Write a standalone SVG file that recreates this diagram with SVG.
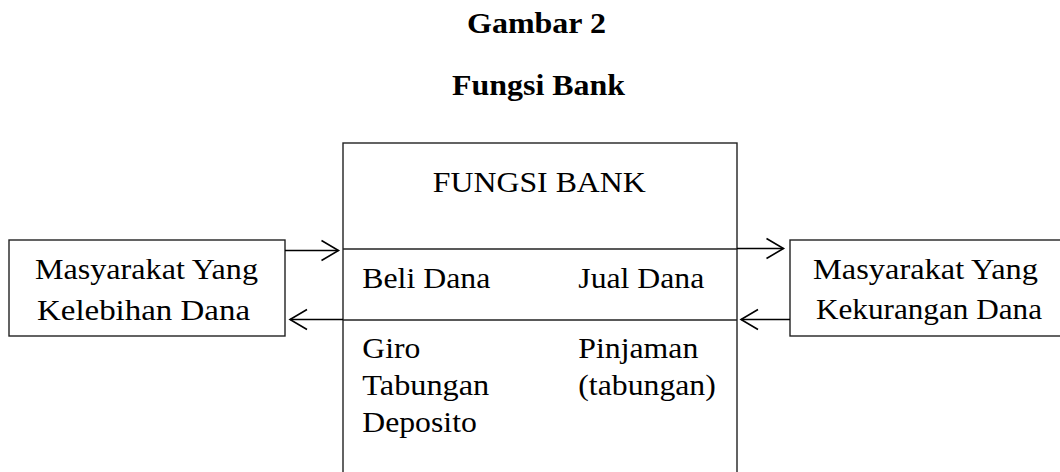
<svg xmlns="http://www.w3.org/2000/svg" width="1060" height="472" viewBox="0 0 1060 472">
<defs>
<style>
text{font-family:"Liberation Serif","Times New Roman",serif;font-size:30px;fill:#000}
.t{font-weight:bold;text-anchor:middle}
.c{text-anchor:middle}
.box{fill:none;stroke:#222;stroke-width:1.4}
.div{stroke:#222;stroke-width:1.4;fill:none}
.arr{stroke:#000;stroke-width:1.6;fill:none;marker-end:url(#open)}
</style>
<marker id="open" markerUnits="userSpaceOnUse" markerWidth="24" markerHeight="24" viewBox="-20 -12 24 24" refX="0" refY="0" orient="auto">
<path d="M-17,-10 L0,0 L-17,10" fill="none" stroke="#000" stroke-width="1.6"/>
</marker>
</defs>
<rect width="1060" height="472" fill="#fff"/>
<g id="title">
<text class="t" x="536.5" y="33" textLength="139" lengthAdjust="spacingAndGlyphs">Gambar 2</text>
<text class="t" x="538.5" y="95" textLength="173" lengthAdjust="spacingAndGlyphs">Fungsi Bank</text>
</g>
<g id="bank">
<rect class="box" x="343" y="143" width="394" height="340"/>
<line class="div" x1="343" y1="249" x2="737" y2="249"/>
<line class="div" x1="343" y1="320" x2="737" y2="320"/>
<text class="c" x="539.3" y="191.5" textLength="213" lengthAdjust="spacingAndGlyphs">FUNGSI BANK</text>
<text x="362.3" y="287.7" textLength="128" lengthAdjust="spacingAndGlyphs">Beli Dana</text>
<text x="578.3" y="287.7" textLength="126" lengthAdjust="spacingAndGlyphs">Jual Dana</text>
<text x="362.3" y="358" textLength="58" lengthAdjust="spacingAndGlyphs">Giro</text>
<text x="362.3" y="395" textLength="127" lengthAdjust="spacingAndGlyphs">Tabungan</text>
<text x="362.3" y="431.7" textLength="114.5" lengthAdjust="spacingAndGlyphs">Deposito</text>
<text x="578.3" y="358" textLength="120" lengthAdjust="spacingAndGlyphs">Pinjaman</text>
<text x="578.3" y="395" textLength="137.5" lengthAdjust="spacingAndGlyphs">(tabungan)</text>
</g>
<g id="surplus">
<rect class="box" x="9" y="240" width="276" height="96"/>
<text class="c" x="146.5" y="279" textLength="223" lengthAdjust="spacingAndGlyphs">Masyarakat Yang</text>
<text class="c" x="143.5" y="320" textLength="213" lengthAdjust="spacingAndGlyphs">Kelebihan Dana</text>
</g>
<g id="deficit">
<rect class="box" x="790" y="240" width="280" height="96"/>
<text class="c" x="925.5" y="278.5" textLength="225" lengthAdjust="spacingAndGlyphs">Masyarakat Yang</text>
<text class="c" x="929" y="318.5" textLength="226" lengthAdjust="spacingAndGlyphs">Kekurangan Dana</text>
</g>
<g id="connectors">
<line class="arr" x1="285" y1="250.5" x2="338.5" y2="250.5"/>
<line class="arr" x1="343" y1="319.5" x2="290" y2="319.5"/>
<line class="arr" x1="737" y1="248.5" x2="783.5" y2="248.5"/>
<line class="arr" x1="790" y1="319.5" x2="741" y2="319.5"/>
</g>
</svg>
